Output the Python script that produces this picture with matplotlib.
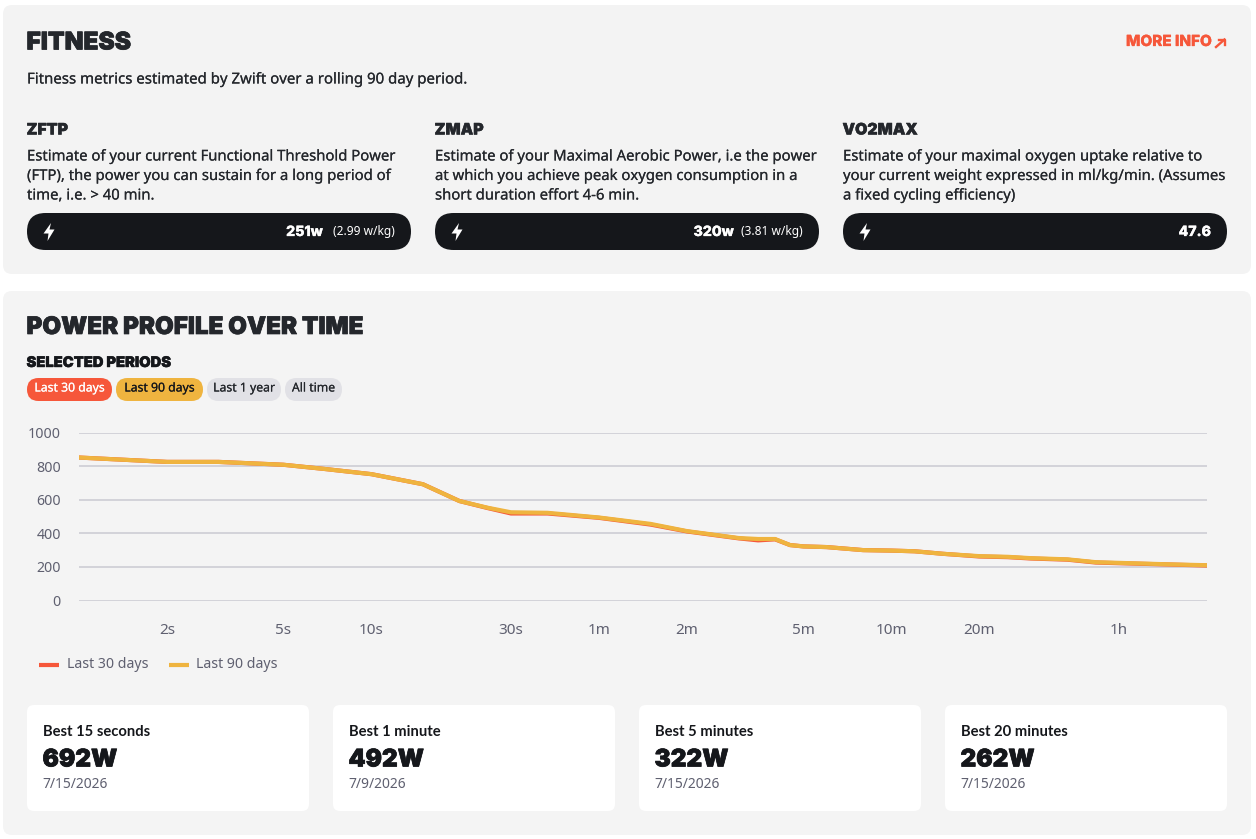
import matplotlib
matplotlib.use("Agg")
import matplotlib.pyplot as plt
import matplotlib.patheffects as pe
from matplotlib.patches import FancyBboxPatch, Polygon

W, H = 1256, 839

durations = [1, 2, 3, 5, 7, 10, 15, 20, 25, 30, 40, 60, 90, 120, 180, 210, 240, 270, 300, 360,
             480, 600, 720, 900, 1200, 1500, 1800, 2400, 3000, 3600, 5400, 7200]
last_30 = [851, 825, 825, 808, 782, 752, 692, 592, 550, 518, 518, 492, 452, 411, 370, 358, 364, 330, 322, 318,
           300, 297, 293, 278, 262, 258, 250, 243, 226, 222, 214, 208]
last_90 = [851, 825, 825, 808, 782, 752, 692, 592, 552, 525, 522, 494, 456, 413, 372, 366, 366, 330, 322, 318,
           300, 297, 293, 278, 264, 260, 252, 245, 228, 224, 215, 210]
xtick_values = [2, 5, 10, 30, 60, 120, 300, 600, 1200, 3600]
xtick_labels = ["2s", "5s", "10s", "30s", "1m", "2m", "5m", "10m", "20m", "1h"]
ytick_values = [0, 200, 400, 600, 800, 1000]
series_labels = ["Last 30 days", "Last 90 days"]
metric_titles = ["ZFTP", "ZMAP", "VO2MAX"]
metric_text = [
    ["Estimate of your current Functional Threshold Power", "(FTP), the power you can sustain for a long period of", "time, i.e. > 40 min."],
    ["Estimate of your Maximal Aerobic Power, i.e the power", "at which you achieve peak oxygen consumption in a", "short duration effort 4-6 min."],
    ["Estimate of your maximal oxygen uptake relative to", "your current weight expressed in ml/kg/min. (Assumes", "a fixed cycling efficiency)"],
]
metric_main = ["251w", "320w", "47.6"]
metric_sub = ["(2.99 w/kg)", "(3.81 w/kg)", ""]
period_labels = ["Last 30 days", "Last 90 days", "Last 1 year", "All time"]
best_titles = ["Best 15 seconds", "Best 1 minute", "Best 5 minutes", "Best 20 minutes"]
best_values = ["692W", "492W", "322W", "262W"]
best_dates = ["7/15/2026", "7/9/2026", "7/15/2026", "7/15/2026"]

RED, AMBER = "#F6573A", "#EFB43F"
DARK, INK, GREY = "#15171B", "#24272C", "#5F6070"
FONT = "Noto Sans"
HEAVY = "Inter"

fig = plt.figure(figsize=(W / 100, H / 100), dpi=100, facecolor="white")
bg = fig.add_axes([0, 0, 1, 1])
bg.set_xlim(0, W)
bg.set_ylim(H, 0)
bg.axis("off")


def box(x, y, w, h, r, color, z=1):
    bg.add_patch(FancyBboxPatch((x + r, y + r), w - 2 * r, h - 2 * r,
                                boxstyle=f"round,pad={r},rounding_size={r}",
                                fc=color, ec="none", zorder=z))


def txt(x, y, s, size, color=INK, weight="normal", ha="left", family=FONT, stroke=0.0):
    t = bg.text(x, y, s, fontsize=size, color=color, fontweight=weight, ha=ha,
                va="center", family=family, zorder=5)
    if stroke:
        t.set_path_effects([pe.withStroke(linewidth=stroke, foreground=color)])
    return t


def bolt(cx, cy):
    pts = [(cx + 2, cy - 9), (cx - 5.5, cy + 1.5), (cx - 0.5, cy + 1.5), (cx - 1.5, cy + 9),
           (cx + 5.5, cy - 2.5), (cx + 0.5, cy - 2.5)]
    bg.add_patch(Polygon(pts, closed=True, fc="white", ec="none", zorder=5))


box(3, 5, 1248, 269, 9, "#F3F3F3")
box(3, 291, 1248, 544, 9, "#F4F4F4")

txt(26.5, 43, "FITNESS", 17.6, INK, "black", family=HEAVY, stroke=0.5)
txt(1126, 41.5, "MORE INFO", 11, RED, "heavy", family=HEAVY, stroke=0.2)
bg.plot([1216, 1224.5], [47, 39.5], color=RED, lw=1.7, zorder=5)
bg.plot([1219, 1224.5, 1224.5], [39.5, 39.5, 45], color=RED, lw=1.7, zorder=5)
txt(27, 80, "Fitness metrics estimated by Zwift over a rolling 90 day period.", 10.8, stroke=0.1)

xs = [27, 435, 843]
main_right = [296, 299, 368]
for x, title, lines, main, sub, mr in zip(xs, metric_titles, metric_text, metric_main, metric_sub, main_right):
    txt(x - 0.5, 130, title, 11.4, INK, "black", family=HEAVY, stroke=0.3)
    for i, line in enumerate(lines):
        txt(x, 157 + i * 19.5, line, 10.7, stroke=0.1)
    box(x, 213, 384, 37, 18.5, DARK, 2)
    bolt(x + 22, 232)
    if sub:
        txt(x + 368, 232, sub, 8.6, "white", ha="right")
    txt(x + mr, 232, main, 10.2, "white", "heavy", ha="right", family=HEAVY, stroke=0.2)

txt(26.5, 328, "POWER PROFILE OVER TIME", 17.4, INK, "black", family=HEAVY, stroke=0.5)
txt(26.5, 363, "SELECTED PERIODS", 10.6, DARK, "black", family=HEAVY, stroke=0.3)

pill_x = [27, 116, 207, 285]
pill_w = [85, 87, 74, 57]
pill_bg = [RED, AMBER, "#E1E1E6", "#E1E1E6"]
pill_fg = ["white", DARK, INK, INK]
for x, w, c, f, s in zip(pill_x, pill_w, pill_bg, pill_fg, period_labels):
    box(x, 378, w, 23, 11.5, c, 2)
    txt(x + w / 2, 388, s, 8.8, f, ha="center", stroke=0.1)

ax = fig.add_axes([79 / W, 1 - 600.5 / H, (1207 - 79) / W, (600.5 - 432.5) / H], facecolor="none")
ax.set_xscale("log")
ax.set_xlim(1, 7200)
ax.set_ylim(0, 1000)
for s in ax.spines.values():
    s.set_visible(False)
ax.set_yticks(ytick_values)
ax.grid(axis="y", color="#CACAD2", lw=1.1)
ax.set_axisbelow(True)
ax.set_xticks(xtick_values)
ax.set_xticklabels(xtick_labels, fontsize=11, color=GREY, family=FONT)
ax.minorticks_off()
ax.tick_params(axis="x", length=0, pad=16.2)
ax.tick_params(axis="y", length=0, pad=13, labelsize=10.2, labelcolor=GREY)
for t in ax.get_yticklabels():
    t.set_family(FONT)
ax.plot(durations, last_30, color=RED, lw=3, label=series_labels[0], solid_joinstyle="round")
ax.plot(durations, last_90, color=AMBER, lw=3, label=series_labels[1], solid_joinstyle="round")

for lx, tx, c, s in zip([39, 169], [67, 196.5], [RED, AMBER], series_labels):
    bg.plot([lx, lx + 20], [665, 665], color=c, lw=3, solid_capstyle="butt", zorder=5)
    txt(tx, 664.5, s, 10.2, GREY)

card_x = [27, 333, 639, 945]
for x, title, value, date in zip(card_x, best_titles, best_values, best_dates):
    box(x, 705, 282, 106, 7, "white", 2)
    txt(x + 16, 731.5, title, 10.6, DARK, "bold", family="Lato")
    txt(x + 15.5, 760, value, 17.5, DARK, "black", family=HEAVY, stroke=0.5)
    txt(x + 15.5, 784, date, 10, GREY)

fig.savefig("out.png", dpi=100)
